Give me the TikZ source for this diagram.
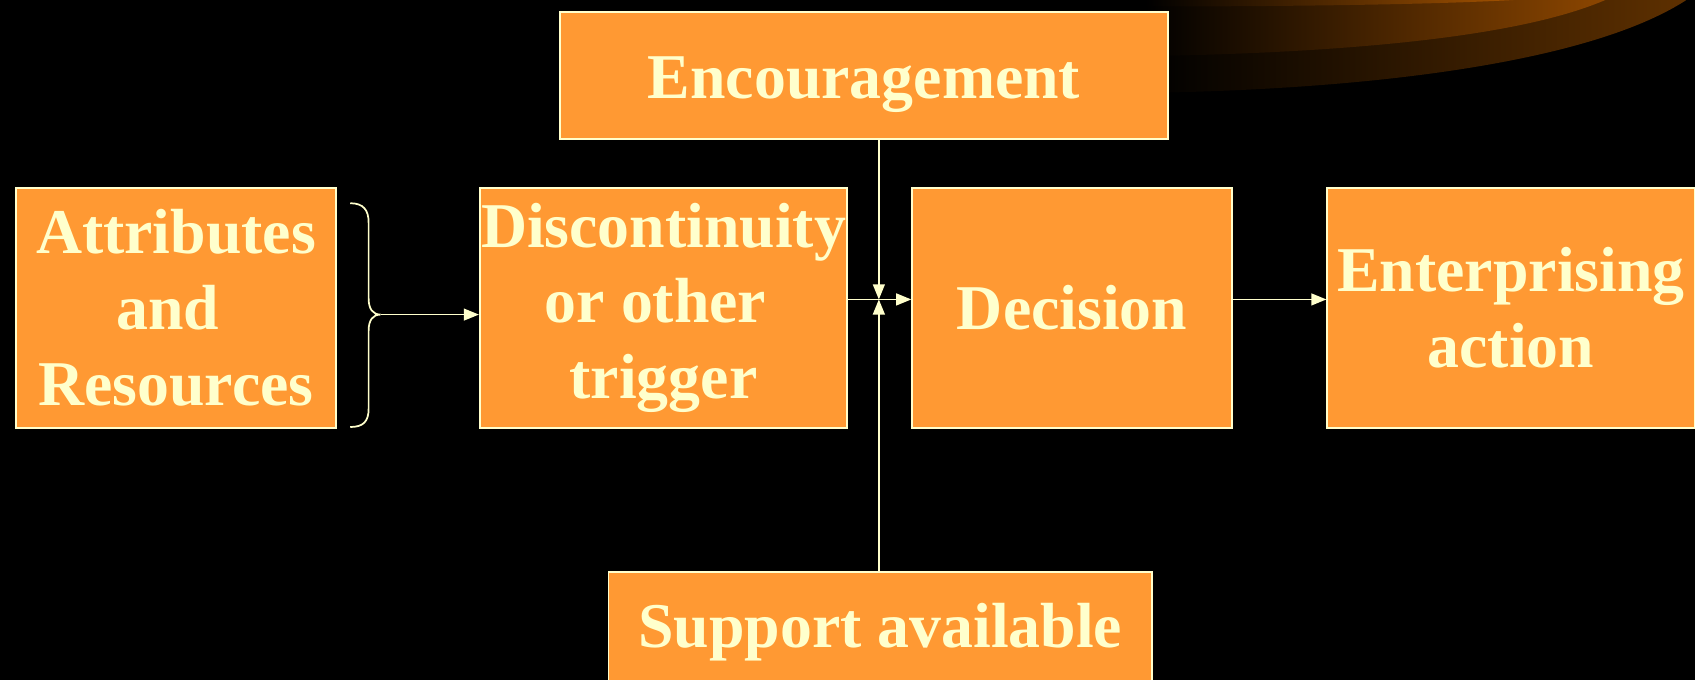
\documentclass[tikz,border=0pt]{standalone}
\usepackage{fontspec}
\setmainfont{Liberation Serif}
\usetikzlibrary{arrows.meta}
\definecolor{boxor}{HTML}{FF9933}
\definecolor{txt}{HTML}{FFFFCC}
\definecolor{swA}{HTML}{5E3000}
\definecolor{swB}{HTML}{8C4600}
\definecolor{swC}{HTML}{A35200}
\tikzset{
  box/.style={draw=txt, line width=1.6pt, fill=boxor, text=txt, inner sep=0pt,
    align=center, anchor=north west, font=\bfseries\fontsize{59}{70}\selectfont},
  conn/.style={draw=txt, line width=1.6pt, -{Triangle[length=14pt,width=11pt]}},
  bracel/.style={draw=txt, line width=1.6pt}
}
\begin{document}
\begin{tikzpicture}[x=1pt,y=-1pt]
\path[use as bounding box, fill=black] (0,0) rectangle (1568,629);
% swoosh
\shade[left color=black, right color=swA] (1060,0) -- (1060,86) .. controls (1300,82) and (1480,52) .. (1560,0) -- cycle;
\shade[left color=black, right color=swB] (1060,0) -- (1060,52) .. controls (1290,48) and (1420,28) .. (1485,0) -- cycle;
\shade[left color=black, right color=swC] (1060,0) -- (1060,6) .. controls (1200,6) and (1330,4) .. (1400,0) -- cycle;
% boxes
\node[box, minimum width=563pt, minimum height=118pt, text height=54pt, text depth=12pt] (enc) at (517,10) {Encouragement};
\node[box, minimum width=296pt, minimum height=222pt] (attr) at (14,173) {Attributes\\and\kern14.75pt\\Resources};
\node[box, minimum width=340pt, minimum height=222pt] (disc) at (443,173) {Discontinuity\\or other\kern14.75pt\\trigger};
\node[box, minimum width=296pt, minimum height=222pt] (dec) at (843,173) {Decision};
\node[box, minimum width=340pt, minimum height=222pt] (ent) at (1227,173) {Enterprising\\action};
\node[box, minimum width=503pt, minimum height=112pt] (sup) at (562,528) {Support available};
% brace
\coordinate (btop) at (324,188);
\coordinate (bbot) at (324,395);
\coordinate (btip) at (352,291);
\draw[bracel] (btop) .. controls (336,188) and (341,194) .. (341,206) -- (341,276)
  .. controls (341,286) and (345,291) .. (btip)
  .. controls (345,291) and (341,296) .. (341,306) -- (341,378)
  .. controls (341,390) and (336,395) .. (bbot);
\draw[conn] (btip) -- (disc.west |- btip);
% junction
\coordinate (j) at (813,277);
\draw[conn] (disc.east |- j) -- (dec.west |- j);
\draw[conn] (enc.south -| j) -- (j);
\draw[conn] (sup.north -| j) -- (j);
\draw[conn] (dec.east |- j) -- (ent.west |- j);
\end{tikzpicture}
\end{document}
